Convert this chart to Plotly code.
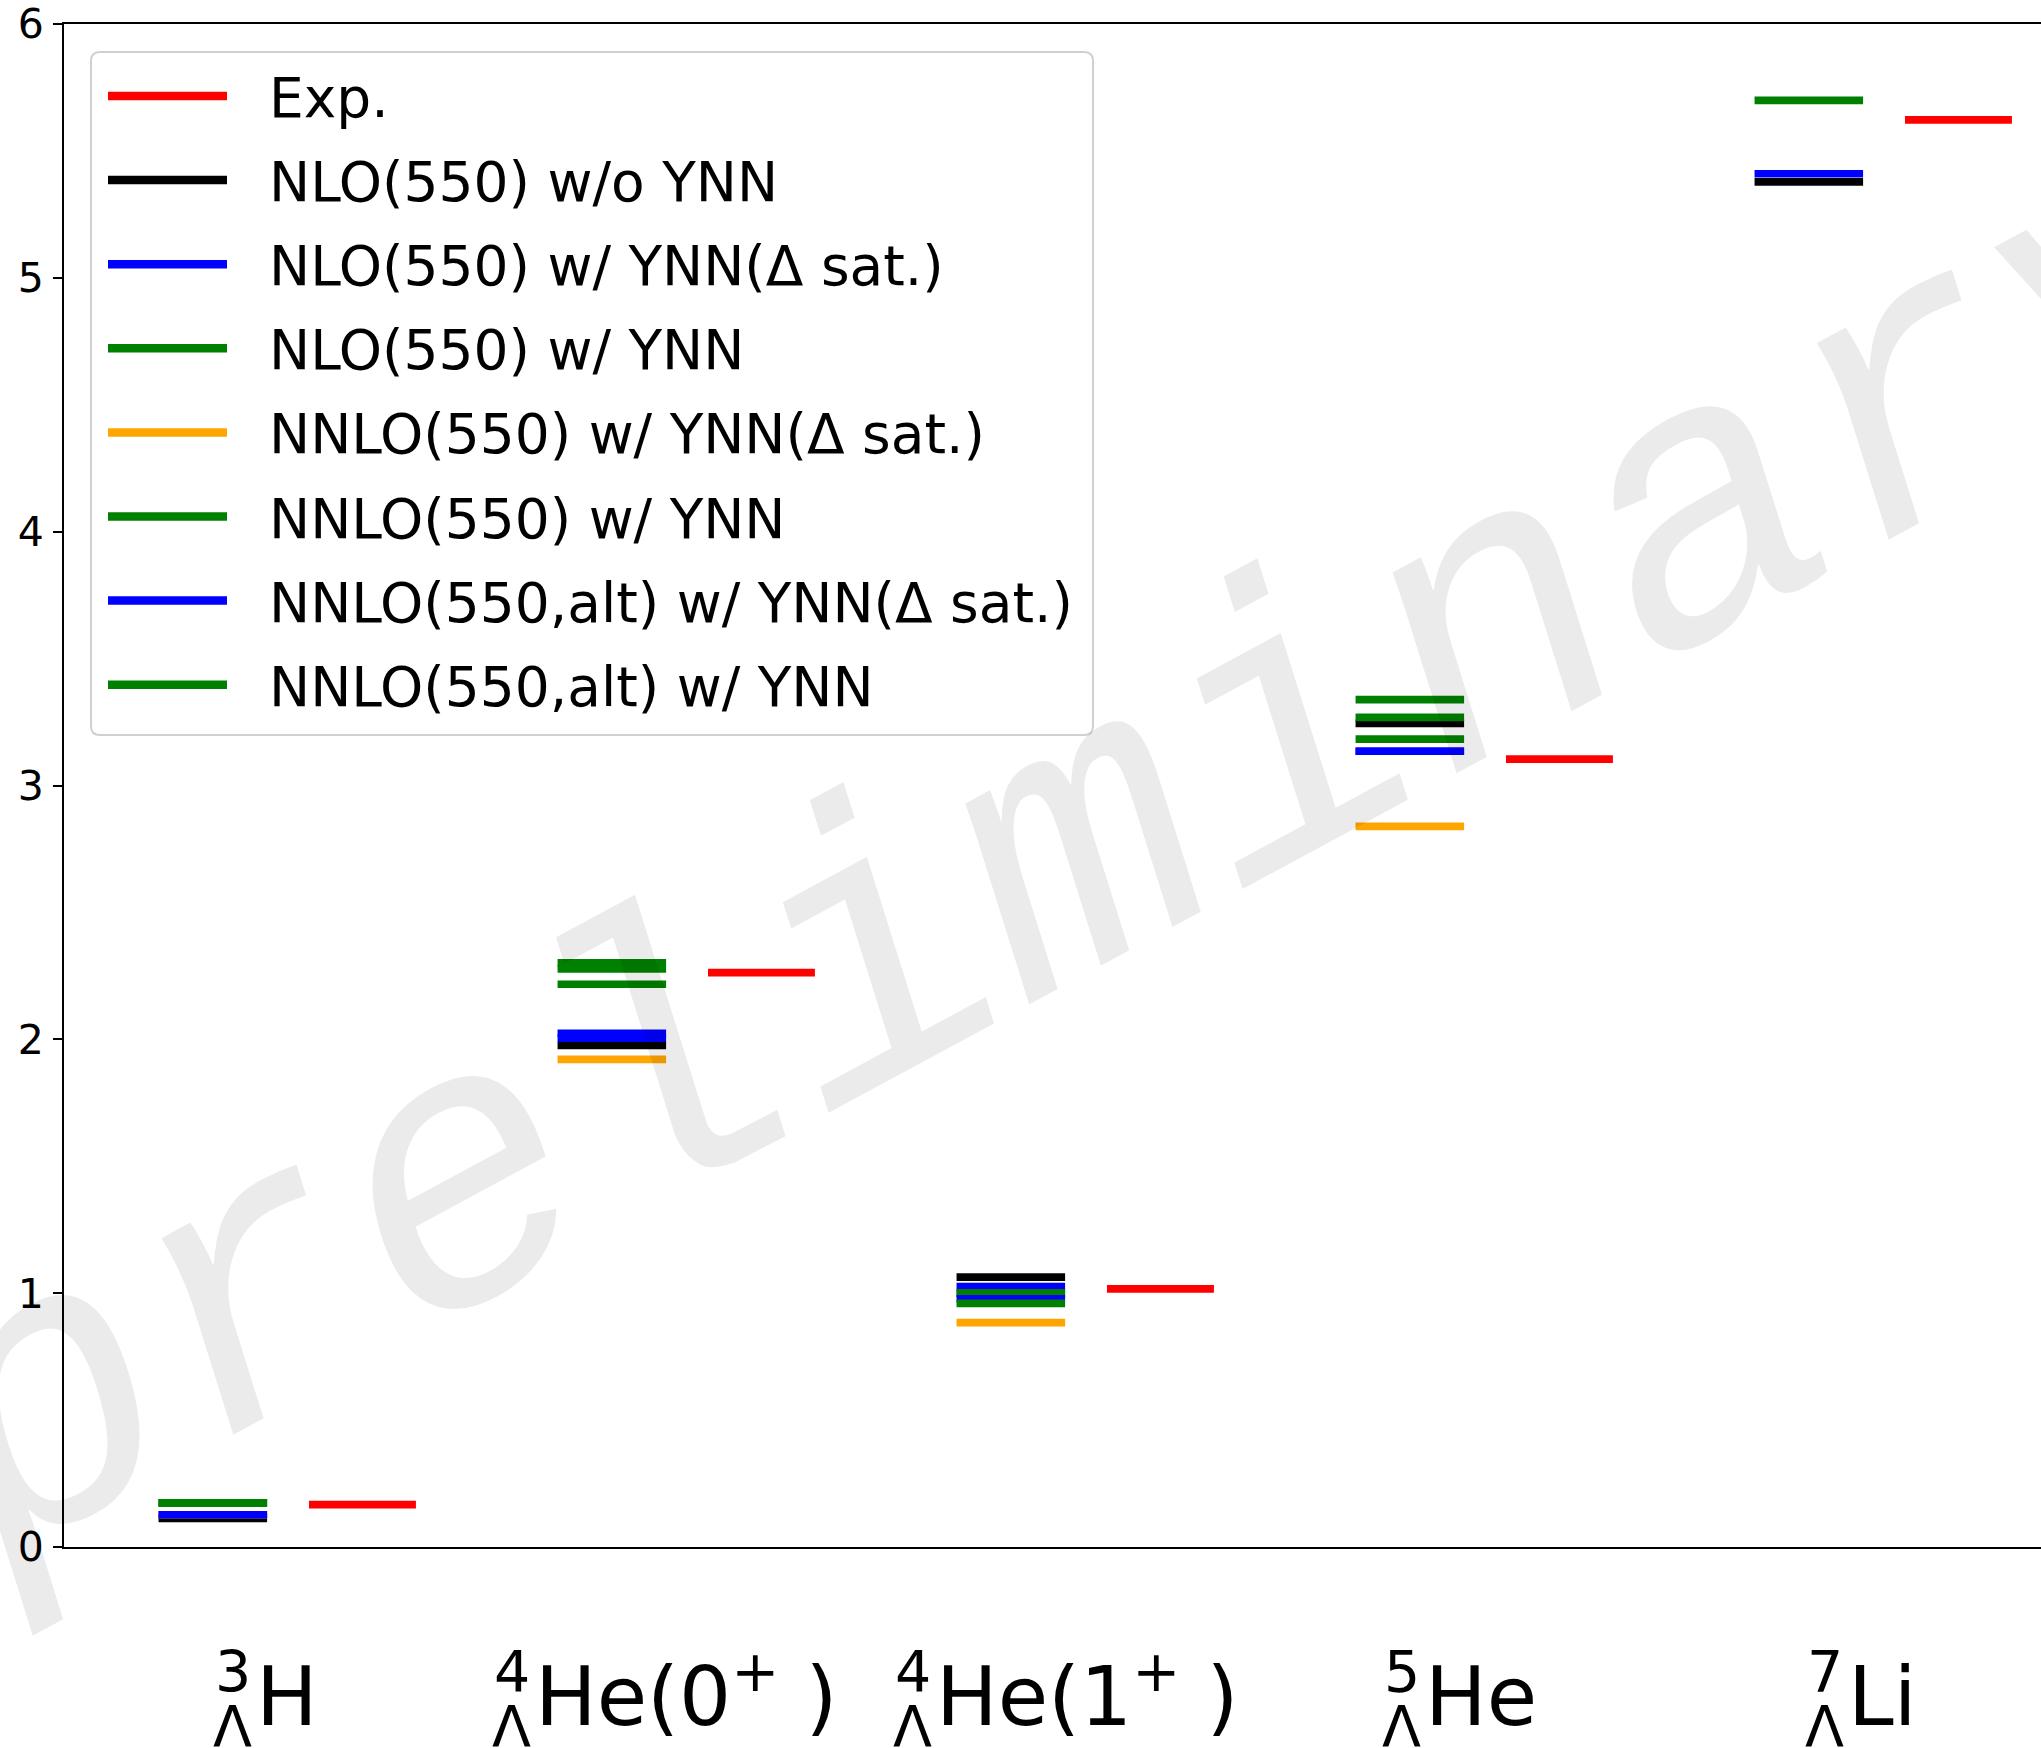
import plotly.graph_objects as go

# ---- data -------------------------------------------------------------
MASS_NUMBERS = ["3", "4", "4", "5", "7"]
CORE_LABELS = ["H", "He(0<sup>+</sup> )", "He(1<sup>+</sup> )", "He", "Li"]

SERIES_NAMES = [
    "Exp.",
    "NLO(550) w/o YNN",
    "NLO(550) w/ YNN(Δ sat.)",
    "NLO(550) w/ YNN",
    "NNLO(550) w/ YNN(Δ sat.)",
    "NNLO(550) w/ YNN",
    "NNLO(550,alt) w/ YNN(Δ sat.)",
    "NNLO(550,alt) w/ YNN",
]
SERIES_COLORS = ["#ff0000", "#000000", "#0000ff", "#008000",
                 "#ffa500", "#008000", "#0000ff", "#008000"]

exp_vals = [0.167, 2.263, 1.017, 3.104, 5.622]
nlo_wo_ynn = [0.113, 1.976, 1.063, 3.245, 5.378]
nlo_ynn_delta = [0.127, 2.024, 1.026, 3.135, 5.410]
nlo_ynn = [0.174, 2.301, 1.000, 3.338, 5.699]
nnlo_ynn_delta = [0.127, 1.921, 0.884, 2.839, None]
nnlo_ynn = [0.174, 2.277, 1.000, 3.268, None]
nnlo_alt_ynn_delta = [0.127, 2.005, 0.978, 3.135, None]
nnlo_alt_ynn = [0.174, 2.217, 0.960, 3.183, None]

SERIES_VALUES = [exp_vals, nlo_wo_ynn, nlo_ynn_delta, nlo_ynn,
                 nnlo_ynn_delta, nnlo_ynn, nnlo_alt_ynn_delta, nnlo_alt_ynn]

# ---- geometry ---------------------------------------------------------
W, H = 2041, 1748
AX_L, AX_T, AX_B = 64, 24, 1547          # axes box in pixels
X_MAX = (W - AX_L) / 399.0                # one category per 399 px
THEORY_SPAN = (0.237, 0.509)              # level bar extent inside a category
EXP_SPAN = (0.614, 0.882)
LEVEL_WIDTH = 7.7
FONT = "DejaVu Sans"


def to_paper(px, py):
    return ((px - AX_L) / (W - AX_L), (AX_B - py) / (AX_B - AX_T))


fig = go.Figure()

for k, (name, color, vals) in enumerate(zip(SERIES_NAMES, SERIES_COLORS, SERIES_VALUES)):
    x0, x1 = EXP_SPAN if k == 0 else THEORY_SPAN
    xs, ys = [], []
    for i, v in enumerate(vals):
        if v is None:
            continue
        xs += [i + x0, i + x1, None]
        ys += [v, v, None]
    fig.add_trace(go.Scatter(x=xs, y=ys, mode="lines", name=name,
                             line=dict(color=color, width=LEVEL_WIDTH),
                             showlegend=False, hoverinfo="skip"))

# ---- category labels (pre-scripts stacked: mass number over Λ) -------
MAIN_SHIFT = [-10, -130, -128, -38, -14]
annotations = []
for i, (mass, core) in enumerate(zip(MASS_NUMBERS, CORE_LABELS)):
    xc = i + 0.5
    annotations.append(dict(x=xc, y=0, xref="x", yref="paper", text=core,
                            showarrow=False, xanchor="left", yanchor="bottom",
                            xshift=MAIN_SHIFT[i], yshift=-199,
                            font=dict(family=FONT, size=82, color="black")))
    annotations.append(dict(x=xc, y=0, xref="x", yref="paper", text=mass,
                            showarrow=False, xanchor="center", yanchor="bottom",
                            xshift=MAIN_SHIFT[i] - 21, yshift=-160,
                            font=dict(family=FONT, size=57, color="black")))
    annotations.append(dict(x=xc, y=0, xref="x", yref="paper", text="Λ",
                            showarrow=False, xanchor="center", yanchor="bottom",
                            xshift=MAIN_SHIFT[i] - 21, yshift=-215,
                            font=dict(family=FONT, size=57, color="black")))

# ---- legend box -------------------------------------------------------
LEG_BOX = (91, 52, 1093, 735)
r = 9
bx0, by0, bx1, by1 = LEG_BOX
pts = [("M", bx0 + r, by0), ("L", bx1 - r, by0), ("Q", bx1, by0, bx1, by0 + r),
       ("L", bx1, by1 - r), ("Q", bx1, by1, bx1 - r, by1), ("L", bx0 + r, by1),
       ("Q", bx0, by1, bx0, by1 - r), ("L", bx0, by0 + r), ("Q", bx0, by0, bx0 + r, by0)]
path = ""
for p in pts:
    cmd, coords = p[0], p[1:]
    segs = []
    for j in range(0, len(coords), 2):
        u, v = to_paper(coords[j], coords[j + 1])
        segs.append(f"{u:.5f},{v:.5f}")
    path += cmd + " ".join(segs) + " "
path += "Z"

shapes = [dict(type="path", path=path, xref="paper", yref="paper",
               fillcolor="rgba(255,255,255,0.8)",
               line=dict(color="#d0d0d0", width=2), layer="above")]

ROW0, ROW_STEP = 96, 84.1
for k, (name, color) in enumerate(zip(SERIES_NAMES, SERIES_COLORS)):
    yrow = ROW0 + k * ROW_STEP
    ux0, uy = to_paper(108, yrow)
    ux1, _ = to_paper(227, yrow)
    shapes.append(dict(type="line", xref="paper", yref="paper",
                       x0=ux0, x1=ux1, y0=uy, y1=uy,
                       line=dict(color=color, width=8.5), layer="above"))
    tx, ty = to_paper(267, yrow + 2)
    annotations.append(dict(x=tx, y=ty, xref="paper", yref="paper", text=name,
                            showarrow=False, xanchor="left", yanchor="middle",
                            font=dict(family=FONT, size=55, color="black")))

# ---- watermark --------------------------------------------------------
wx, wy = to_paper(1085, 856)
annotations.append(dict(x=wx, y=wy, xref="paper", yref="paper",
                        text="<i>preliminary</i>",
                        showarrow=False, xanchor="center", yanchor="middle",
                        textangle=-28.4,
                        font=dict(family="Liberation Mono", size=392, style="italic",
                                  color="rgba(0,0,0,0.08)")))

fig.update_layout(
    width=W, height=H,
    margin=dict(l=AX_L, r=0, t=AX_T, b=H - AX_B, pad=0),
    plot_bgcolor="white", paper_bgcolor="white",
    showlegend=False,
    shapes=shapes,
    annotations=annotations,
    xaxis=dict(range=[0, X_MAX], showgrid=False, zeroline=False,
               showline=True, mirror=True, linecolor="black", linewidth=2,
               ticks="", showticklabels=False, fixedrange=True),
    yaxis=dict(range=[0, 6], showgrid=False, zeroline=False,
               showline=True, mirror=False, linecolor="black", linewidth=2,
               ticks="outside", ticklen=9, tickwidth=2, tickcolor="black",
               tickvals=[0, 1, 2, 3, 4, 5, 6], ticklabelstandoff=1,
               tickfont=dict(family=FONT, size=41, color="black"), fixedrange=True),
)

fig.write_html("out.html")
